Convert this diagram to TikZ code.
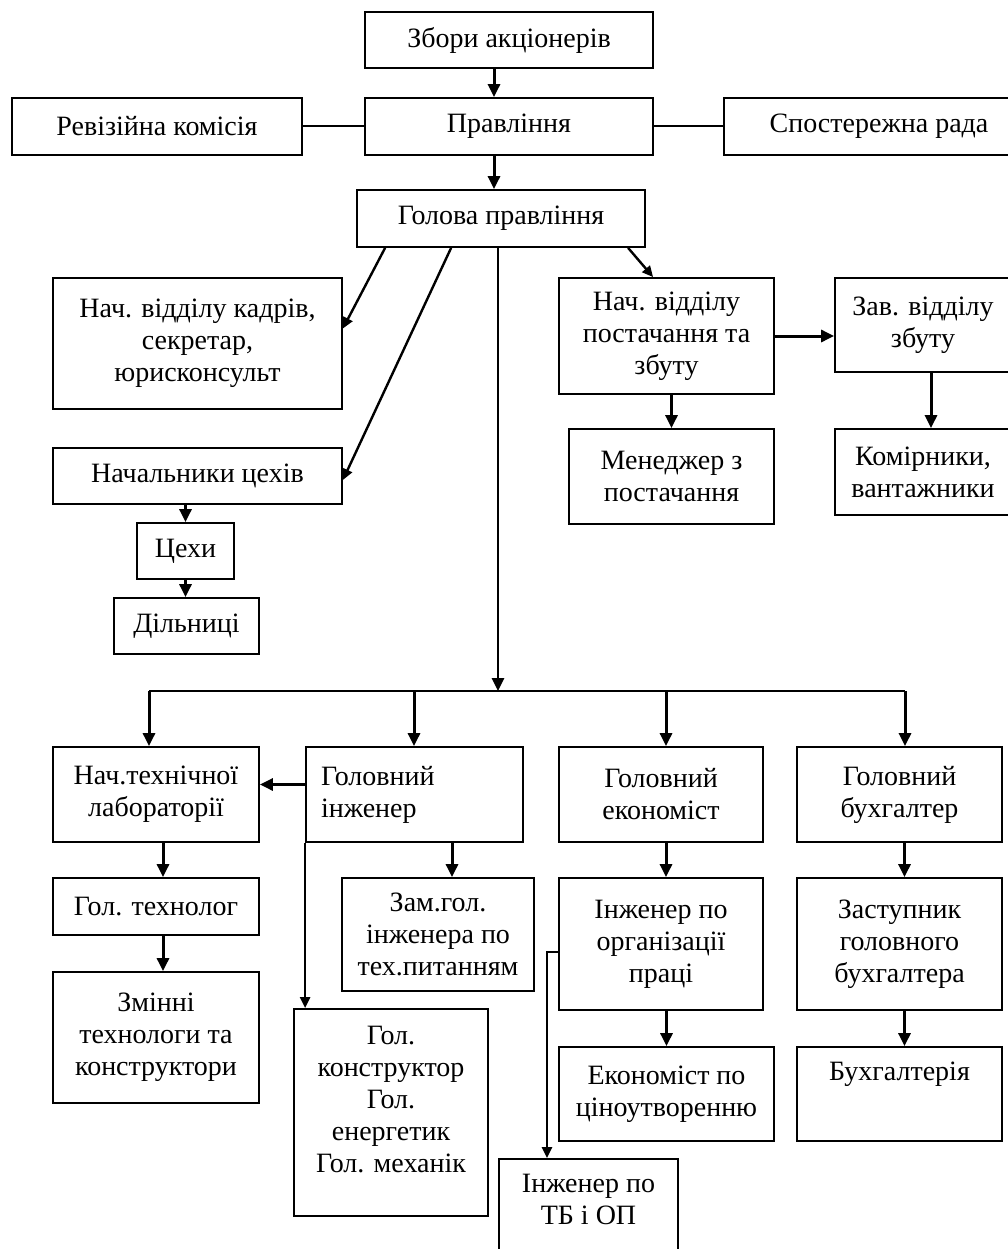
\documentclass[tikz,border=0pt]{standalone}
\usepackage{fontspec}
\setmainfont{Liberation Serif}
\usetikzlibrary{arrows.meta,calc}
\begin{document}
\begin{tikzpicture}[x=1pt,y=-1pt,
  box/.style={draw, line width=1.8pt, inner sep=0pt, align=center, font=\fontsize{28pt}{32pt}\selectfont},
  ln/.style={line width=2pt},
  arr/.style={line width=3pt, -{Triangle[length=13pt,width=12pt]}},
  sarr/.style={line width=2.4pt, -{Triangle[length=11pt,width=10pt]}},
]
\useasboundingbox (0,0) rectangle (1007,1249);
\fill[white] (0,0) rectangle (1007,1249);

% top
\node[box, minimum width=288pt, minimum height=56pt] (zb) at (509,40) {Збори акціонерів};
\node[box, minimum width=290pt, minimum height=57pt] (rk) at (157,126.5) {Ревізійна комісія};
\node[box, minimum width=288pt, minimum height=57pt] (pr) at (509,126.5) {Правління};
\node[box, minimum width=310pt, minimum height=57pt] (sr) at (879,126.5) {Спостережна рада};
\node[box, minimum width=288pt, minimum height=57pt] (gp) at (501,218.5) {Голова правління};

% left upper
\node[box, minimum width=289pt, minimum height=131pt] (kd) at (197.5,343.5) {Нач. відділу кадрів,\\секретар,\\юрисконсульт};
\node[box, minimum width=289pt, minimum height=56pt] (nc) at (197.5,476) {Начальники цехів};
\node[box, minimum width=97pt, minimum height=56pt] (ts) at (185.5,551) {Цехи};
\node[box, minimum width=145pt, minimum height=56pt] (dl) at (186.5,626) {Дільниці};

% right upper
\node[box, minimum width=215pt, minimum height=116pt] (np) at (666.5,336) {Нач. відділу\\постачання та\\збуту};
\node[box, minimum width=176pt, minimum height=94pt] (zv) at (923,325) {Зав. відділу\\збуту};
\node[box, minimum width=205pt, minimum height=95pt] (mn) at (671.5,476.5) {Менеджер з\\постачання};
\node[box, minimum width=176pt, minimum height=86pt] (km) at (923,472) {Комірники,\\вантажники};

% lower row
\node[box, minimum width=206pt, minimum height=95pt] (nt) at (156,794.5) {Нач.технічної\\лабораторії};
\node[box, minimum width=217pt, minimum height=95pt, text width=187pt, align=left] (gi) at (414.5,794.5) {Головний\\інженер};
\node[box, minimum width=204pt, minimum height=95pt] (ge) at (661,794.5) {Головний\\економіст};
\node[box, minimum width=205pt, minimum height=95pt] (gb) at (899.5,794.5) {Головний\\бухгалтер};

\node[box, minimum width=206pt, minimum height=57pt] (gt) at (156,906.5) {Гол. технолог};
\node[box, minimum width=206pt, minimum height=131pt] (zm) at (156,1037.5) {Змінні\\технологи та\\конструктори};
\node[box, minimum width=192pt, minimum height=113pt] (zg) at (438,934.5) {Зам.гол.\\інженера по\\тех.питанням};
\node[box, minimum width=194pt, minimum height=207pt] (gk) at (391,1112.5) {Гол.\\конструктор\\Гол.\\енергетик\\Гол. механік\\[-5pt]\mbox{}};
\node[box, minimum width=204pt, minimum height=132pt] (io) at (661,944) {Інженер по\\організації\\праці};
\node[box, minimum width=205pt, minimum height=132pt] (zs) at (899.5,944) {Заступник\\головного\\бухгалтера};
\node[box, minimum width=215pt, minimum height=94pt] (ek) at (666.5,1094) {Економіст по\\ціноутворенню};
\node[box, minimum width=205pt, minimum height=94pt] (bh) at (899.5,1094) {Бухгалтерія\\[14pt]\mbox{}};
\node[box, minimum width=179pt, minimum height=103pt] (tb) at (588.5,1210.5) {Інженер по\\ТБ і ОП\\[-9pt]\mbox{}};

% connectors top
\draw[arr] ($(zb.south)+(-15,0)$) -- ($(pr.north)+(-15,0)$);
\draw[ln] (rk) -- (pr);
\draw[ln] (pr) -- (sr);
\draw[arr] ($(pr.south)+(-15,0)$) -- ($(gp.north)+(-7,0)$);

\draw[sarr] ($(gp.south west)+(29,0)$) -- ($(kd.east)+(0,-15)$);
\draw[sarr] ($(gp.south west)+(95,0)$) -- ($(nc.east)+(0,4)$);
\draw[sarr] ($(gp.south west)+(272,0)$) -- ($(np.north west)+(95,0)$);

\draw[arr] (ts.north |- nc.south) -- (ts.north);
\draw[arr] (ts.south) -- (ts.south |- dl.north);

\draw[arr] (np.east) -- (np.east -| zv.west);
\draw[arr] (mn.north |- np.south) -- (mn.north);
\draw[arr] ($(zv.south)+(8,0)$) -- ($(km.north)+(8,0)$);

% trunk and bus
\coordinate (bt) at (498,691);
\coordinate (b1) at (149,691);
\coordinate (b2) at (414,691);
\coordinate (b3) at (666,691);
\coordinate (b4) at (905,691);
\draw[line width=2.6pt, -{Triangle[length=13pt,width=12pt]}] (gp.south -| bt) -- (bt);
\draw[ln] (b1) -- (b4);
\draw[arr] (b1) -- (b1 |- nt.north);
\draw[arr] (b2) -- (b2 |- gi.north);
\draw[arr] (b3) -- (b3 |- ge.north);
\draw[arr] (b4) -- (b4 |- gb.north);

% lower connectors
\draw[arr] ($(gi.west)+(0,-10)$) -- ($(nt.east)+(0,-10)$);
\draw[arr] ($(nt.south)+(7,0)$) -- ($(gt.north)+(7,0)$);
\draw[arr] ($(gt.south)+(7,0)$) -- ($(zm.north)+(7,0)$);
\coordinate (zga) at ($(zg.north)+(14,0)$);
\draw[arr] (zga |- gi.south) -- (zga);
\draw[sarr] (gi.south west) -- (gi.south west |- gk.north);
\draw[arr] ($(ge.south)+(5,0)$) -- ($(io.north)+(5,0)$);
\draw[arr] (ek.north |- io.south) -- (ek.north);
\draw[arr] ($(gb.south)+(5,0)$) -- ($(zs.north)+(5,0)$);
\draw[arr] ($(zs.south)+(5,0)$) -- ($(bh.north)+(5,0)$);
\coordinate (tbj) at (547,952);
\draw[sarr] (io.west |- tbj) -- (tbj) -- (tbj |- tb.north);
\end{tikzpicture}
\end{document}
